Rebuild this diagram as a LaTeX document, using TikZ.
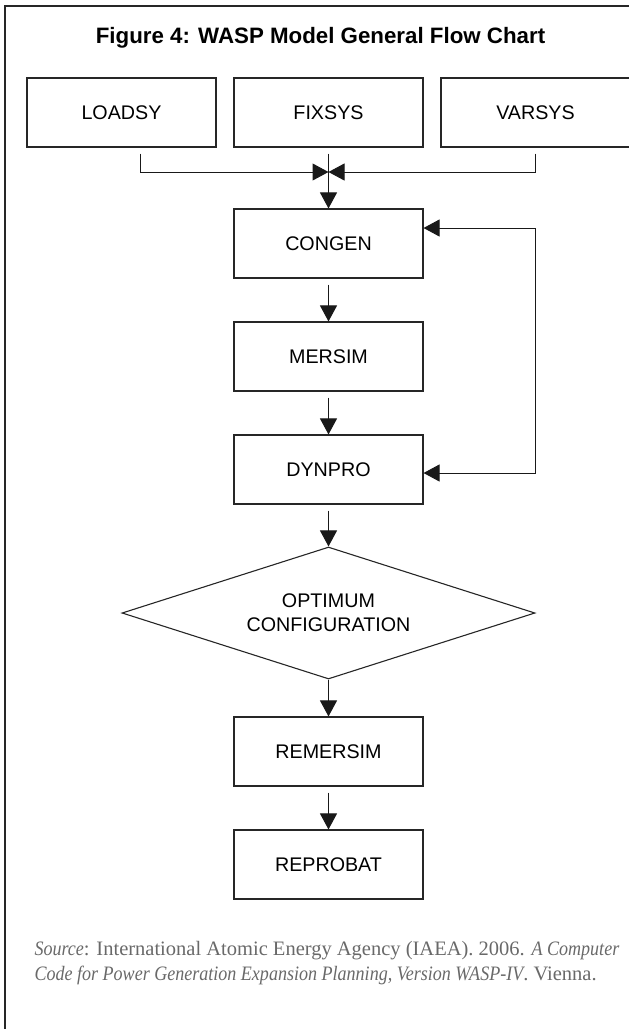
\documentclass[tikz,border=0pt]{standalone}
\usepackage{fontspec}
\setmainfont{Liberation Sans}
\newfontfamily\srcfont[ItalicFeatures={FakeStretch=0.88}]{Liberation Serif}
\usetikzlibrary{arrows.meta, shapes.geometric}
\definecolor{srcgray}{RGB}{105,105,105}

\begin{document}
\begin{tikzpicture}[x=1pt, y=-1pt, >={Triangle[length=16pt,width=17pt]},
  prog/.style={draw=black!85, line width=1.1pt, minimum width=189pt, minimum height=69pt,
    inner sep=0pt, font=\fontsize{19.7}{24}\selectfont},
  test/.style={prog, diamond, aspect=3.13, minimum width=413pt, minimum height=132pt, align=center},
  flow/.style={line width=1pt, black!90}]
  \useasboundingbox (0,0) rectangle (629,1029);
  % frame
  \draw[line width=1.3pt, black!85] (5,1035) -- (5,6) -- (635,6);
  % title
  \node[font=\fontsize{22.3}{24}\selectfont\bfseries, anchor=base] (title) at (320.5,43)
    {Figure 4: WASP Model General Flow Chart};
  % input programs
  \node[prog] (LOADSY) at (121.5,112.5) {LOADSY};
  \node[prog] (FIXSYS) at (328.5,112.5) {FIXSYS};
  \node[prog] (VARSYS) at (535.5,112.5) {VARSYS};
  % main chain
  \node[prog] (CONGEN) at (328.5,243.5) {CONGEN};
  \node[prog] (MERSIM) at (328.5,356.5) {MERSIM};
  \node[prog] (DYNPRO) at (328.5,469.5) {DYNPRO};
  \node[test] (OPTIMUM) at (328.5,613) {OPTIMUM\\CONFIGURATION};
  \node[prog] (REMERSIM) at (328.5,751.5) {REMERSIM};
  \node[prog] (REPROBAT) at (328.5,864.5) {REPROBAT};
  % inputs join above CONGEN
  \coordinate (join) at (328.5,172);
  \draw[flow, ->] ([xshift=18.5pt, yshift=-6pt]LOADSY.south) |- (join);
  \draw[flow, ->] ([xshift=-0.5pt, yshift=-6pt]VARSYS.south) |- (join);
  \draw[flow, ->] ([yshift=-6pt]FIXSYS.south) -- (CONGEN);
  % chain arrows
  \draw[flow, ->] ([yshift=-6pt]CONGEN.south) -- (MERSIM);
  \draw[flow, ->] ([yshift=-6pt]MERSIM.south) -- (DYNPRO);
  \draw[flow, ->] ([yshift=-6pt]DYNPRO.south) -- (OPTIMUM);
  \draw[flow, ->] (OPTIMUM.south) -- (REMERSIM);
  \draw[flow, ->] ([yshift=-6pt]REMERSIM.south) -- (REPROBAT);
  % feedback loop
  \draw[flow, <->] ([yshift=15.5pt]CONGEN.east) -- ++(112,0) |- ([yshift=-3.5pt]DYNPRO.east);
  % source note
  \node[anchor=base west, align=left, text=srcgray, font=\srcfont\fontsize{20.5}{25}\selectfont]
    (source) at (31,980)
    {\textit{Source}: International Atomic Energy Agency (IAEA). 2006. \textit{A Computer}\\
     \textit{Code for Power Generation Expansion Planning, Version WASP-IV}. Vienna.};
\end{tikzpicture}
\end{document}
